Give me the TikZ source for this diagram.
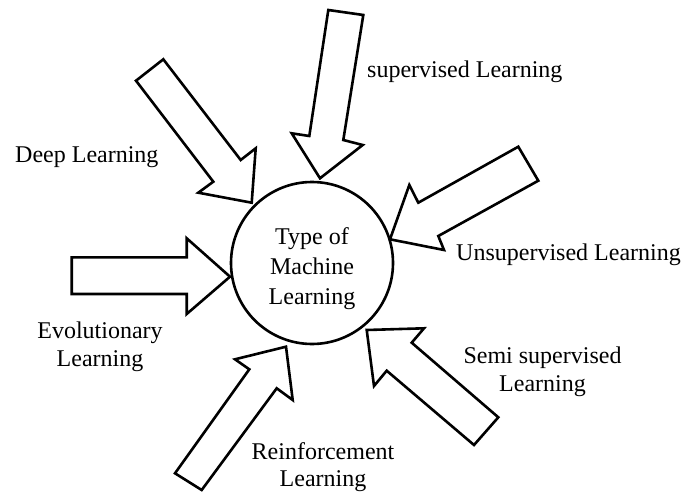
\documentclass[tikz,border=0pt]{standalone}
\usepackage{fontspec}
\setmainfont{Liberation Serif}
\begin{document}
\begin{tikzpicture}[x=1pt,y=-1pt,
  blockarrow/.style={draw=black,line width=2.6pt,fill=white,line join=miter},
  lbl/.style={inner sep=0pt,anchor=base,font=\fontsize{24}{29}\selectfont}]
\useasboundingbox (0,0) rectangle (695,492);
% centre circle
\node[draw,circle,line width=2.6pt,minimum size=162pt,inner sep=0pt] (ml) at (312,263) {};
\node[lbl] (ml1) at (312,244) {Type of};
\node[lbl] (ml2) at (312,274) {Machine};
\node[lbl] (ml3) at (312,304) {Learning};
% block arrows
\draw[blockarrow] (328.3,10) -- (363.3,15) -- (343.3,140) -- (362.7,145) -- (320,178.3) -- (291.7,133.3) -- (309.3,136) -- cycle;
\draw[blockarrow] (136,80.7) -- (163.3,59.3) -- (240.7,160) -- (255.7,148.3) -- (251.7,202.7) -- (198.3,192.7) -- (213.3,181.7) -- cycle;
\draw[blockarrow] (518.3,146.7) -- (538.3,180.7) -- (438.3,236) -- (444,250) -- (390,239.3) -- (409.3,185) -- (418.3,202.7) -- cycle;
\draw[blockarrow] (71.7,257.3) -- (186.7,257.3) -- (186.7,238.3) -- (230,276.7) -- (186.7,314) -- (186.7,294) -- (71.7,294) -- cycle;
\draw[blockarrow] (286,346.7) -- (292.7,400) -- (276.7,388.3) -- (201.7,490) -- (175,473.3) -- (249.3,369.3) -- (235,359.3) -- cycle;
\draw[blockarrow] (366.7,330) -- (424,328.3) -- (411.7,342.7) -- (498.3,417.3) -- (474,445) -- (386.7,370.7) -- (374,386) -- cycle;
% labels
\node[lbl,anchor=base west] (sup) at (367,78) {supervised Learning};
\node[lbl,anchor=base west] (deep) at (15,162) {Deep Learning};
\node[lbl,anchor=base west] (unsup) at (456,260) {Unsupervised Learning};
\node[lbl] (evo1) at (100,338) {Evolutionary};
\node[lbl] (evo2) at (100,366.7) {Learning};
\node[lbl] (semi1) at (542.5,363) {Semi supervised};
\node[lbl] (semi2) at (542.5,391.7) {Learning};
\node[lbl] (rein1) at (323,459) {Reinforcement};
\node[lbl] (rein2) at (323,486) {Learning};
\end{tikzpicture}
\end{document}
